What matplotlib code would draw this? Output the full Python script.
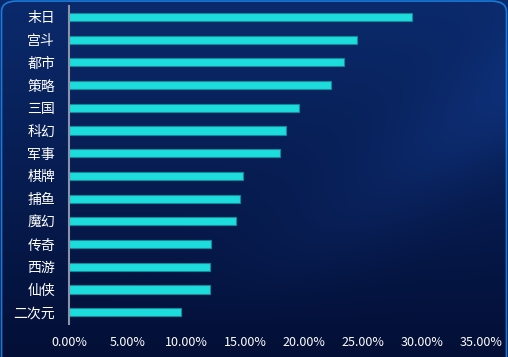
import numpy as np
import matplotlib.pyplot as plt
from matplotlib.patches import FancyBboxPatch
from matplotlib.ticker import FuncFormatter

plt.rcParams['font.family'] = ['Noto Sans CJK SC', 'DejaVu Sans']

categories = ["末日", "宫斗", "都市", "策略", "三国", "科幻", "军事",
              "棋牌", "捕鱼", "魔幻", "传奇", "西游", "仙侠", "二次元"]
shares = [29.1, 24.5, 23.4, 22.3, 19.5, 18.4, 17.9,
          14.8, 14.5, 14.2, 12.1, 12.0, 12.0, 9.5]
x_ticks = [0, 5, 10, 15, 20, 25, 30, 35]

fig = plt.figure(figsize=(5.08, 3.57), dpi=100)
fig.patch.set_facecolor("#051440")

# background gradient with a soft diagonal light band
bg = fig.add_axes([0, 0, 1, 1], zorder=0)
bg.set_axis_off()
h, w = 357, 508
yy, xx = np.mgrid[0:h, 0:w]
t = yy / h
top = np.array([0x0b, 0x2a, 0x6c]) / 255
bot = np.array([0x03, 0x0f, 0x36]) / 255
img = top[None, None, :] * (1 - t[..., None]) + bot[None, None, :] * t[..., None]
d = (xx - 1.3 * (h - yy) - 180) / 90.0
band = np.exp(-d ** 2) * np.clip(1 - t * 1.1, 0, 1)
img = img + band[..., None] * np.array([0.03, 0.07, 0.14])
bg.imshow(np.clip(img, 0, 1), extent=[0, 1, 0, 1], aspect="auto")
bg.set_xlim(0, 1)
bg.set_ylim(0, 1)
frame = FancyBboxPatch((0.003, -0.05), 0.994, 1.047,
                       boxstyle="round,pad=0,rounding_size=0.03",
                       transform=bg.transAxes, facecolor="none",
                       edgecolor="#1a7ad8", linewidth=1.2)
bg.add_patch(frame)

ax = fig.add_axes([0.1358, 0.0938, 0.811, 0.8905], zorder=1)
ax.set_facecolor("none")
y = np.arange(len(categories))
ax.barh(y, shares, height=0.36, color="#1cdcdc",
        edgecolor="#138a9a", linewidth=0.8)
ax.set_ylim(len(categories) - 0.5, -0.5)
ax.set_xlim(0, 35)
ax.set_yticks(y)
ax.set_yticklabels(categories, fontweight="medium")
ax.set_xticks(x_ticks)
ax.xaxis.set_major_formatter(FuncFormatter(lambda v, p: f"{v:.2f}%"))
for lbl in ax.get_xticklabels():
    lbl.set_fontweight("medium")
ax.tick_params(axis="both", length=0, colors="white", labelsize=9)
ax.tick_params(axis="y", pad=10, labelsize=10)
ax.tick_params(axis="x", pad=9)
for s in ["top", "right", "bottom"]:
    ax.spines[s].set_visible(False)
ax.spines["left"].set_color("#8a93a8")
ax.spines["left"].set_linewidth(1.5)

fig.savefig("out.png", dpi=100, facecolor=fig.get_facecolor())
